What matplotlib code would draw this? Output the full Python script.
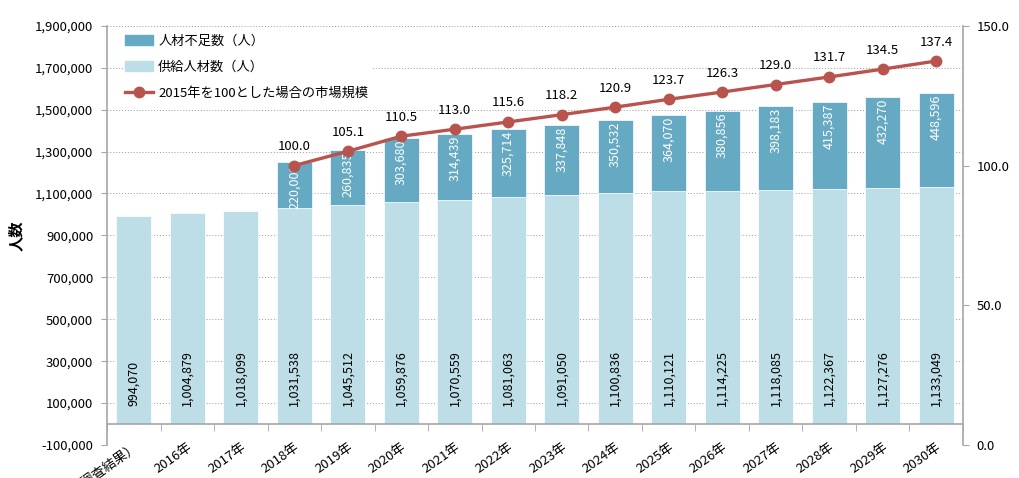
import numpy as np
import matplotlib
matplotlib.use("Agg")
import matplotlib.pyplot as plt
from matplotlib.lines import Line2D
from matplotlib.patches import Patch

plt.rcParams['font.family'] = ['Noto Sans CJK JP', 'DejaVu Sans']

# data
years = ['2015年（国勢調査結果）', '2016年', '2017年', '2018年', '2019年', '2020年', '2021年',
         '2022年', '2023年', '2024年', '2025年', '2026年', '2027年', '2028年',
         '2029年', '2030年']
supply = [994070, 1004879, 1018099, 1031538, 1045512, 1059876, 1070559, 1081063,
          1091050, 1100836, 1110121, 1114225, 1118085, 1122367, 1127276, 1133049]
shortage = [0, 0, 0, 220000, 260835, 303680, 314439, 325714, 337848, 350532,
            364070, 380856, 398183, 415387, 432270, 448596]
market = [None, None, None, 100.0, 105.1, 110.5, 113.0, 115.6, 118.2, 120.9,
          123.7, 126.3, 129.0, 131.7, 134.5, 137.4]

c_short = '#65a9c2'
c_supply = '#bddde7'
c_line = '#b9534d'
grey = '#a6a6a6'

fig = plt.figure(figsize=(10.2, 4.78), dpi=100)
ax = fig.add_axes([0.105, 0.069, 0.839, 0.877])
x = np.arange(len(years))
w = 0.65

ax.bar(x, supply, w, color=c_supply, edgecolor='white', linewidth=0.5, zorder=2)
short_idx = [i for i, v in enumerate(shortage) if v > 0]
ax.bar(x[short_idx], [shortage[i] for i in short_idx], w,
       bottom=[supply[i] for i in short_idx], color=c_short,
       edgecolor='white', linewidth=0.5, zorder=2)

for i in range(len(years)):
    ax.text(x[i], 85000, f'{supply[i]:,}', rotation=90, ha='center', va='bottom',
            fontsize=9, color='black', zorder=3)
for i in short_idx:
    ax.text(x[i], supply[i] + shortage[i] - 8000, f'{shortage[i]:,}', rotation=90,
            ha='center', va='top', fontsize=9, color='white', zorder=3)

ax.set_xlim(-0.5, len(years) - 0.5)
ax.set_ylim(-100000, 1900000)
ax.set_yticks(np.arange(-100000, 1900001, 200000))
ax.yaxis.set_major_formatter(matplotlib.ticker.FuncFormatter(lambda v, p: f'{int(v):,}'))
ax.grid(axis='y', linestyle=(0, (1, 2)), color='#999999', linewidth=0.7, zorder=0)
ax.tick_params(axis='y', length=4, color=grey, labelsize=9.5, pad=6)

ax.spines['top'].set_visible(False)
ax.spines['right'].set_visible(False)
ax.spines['left'].set_color(grey)
ax.spines['left'].set_linewidth(1.2)
ax.spines['bottom'].set_position(('data', 0))
ax.spines['bottom'].set_color(grey)
ax.spines['bottom'].set_linewidth(1.2)

ax.set_xticks(x)
ax.set_xticklabels(years, rotation=35, ha='right', rotation_mode='anchor', fontsize=9.5)
ax.tick_params(axis='x', which='major', length=0, pad=12)
ax.set_xticks(np.arange(-0.5, len(years), 1), minor=True)
ax.tick_params(axis='x', which='minor', length=5, color=grey)

ax.set_ylabel('人数', fontsize=11, fontweight='bold', labelpad=8)

ax2 = ax.twinx()
ax2.set_ylim(0, 150)
ax2.set_yticks([0, 50, 100, 150])
ax2.yaxis.set_major_formatter(matplotlib.ticker.FormatStrFormatter('%.1f'))
ax2.tick_params(axis='y', length=4, color=grey, labelsize=9.5, pad=6)
for s in ['top', 'left', 'bottom']:
    ax2.spines[s].set_visible(False)
ax2.spines['right'].set_color(grey)
ax2.spines['right'].set_linewidth(1.2)

mx = [i for i, v in enumerate(market) if v is not None]
my = [market[i] for i in mx]
ax2.plot(mx, my, color=c_line, linewidth=2.4, marker='o', markersize=7.5, zorder=4)
for i, v in zip(mx, my):
    ax2.annotate(f'{v:.1f}', (i, v), xytext=(0, 9), textcoords='offset points',
                 ha='center', va='bottom', fontsize=9.5)

handles = [Patch(color=c_short), Patch(color=c_supply),
           Line2D([], [], color=c_line, linewidth=2.4, marker='o', markersize=7.5)]
labels = ['人材不足数（人）', '供給人材数（人）', '2015年を100とした場合の市場規模']
leg = ax2.legend(handles, labels, loc='upper left', bbox_to_anchor=(0.018, 0.985),
                 frameon=True, fontsize=9.5, handlelength=2.1, handleheight=0.8,
                 labelspacing=1.0, borderaxespad=0.0, handletextpad=0.4,
                 facecolor='white', edgecolor='none', framealpha=1, fancybox=False,
                 borderpad=0.2)
leg.set_zorder(5)

fig.savefig('out.png', dpi=100)
